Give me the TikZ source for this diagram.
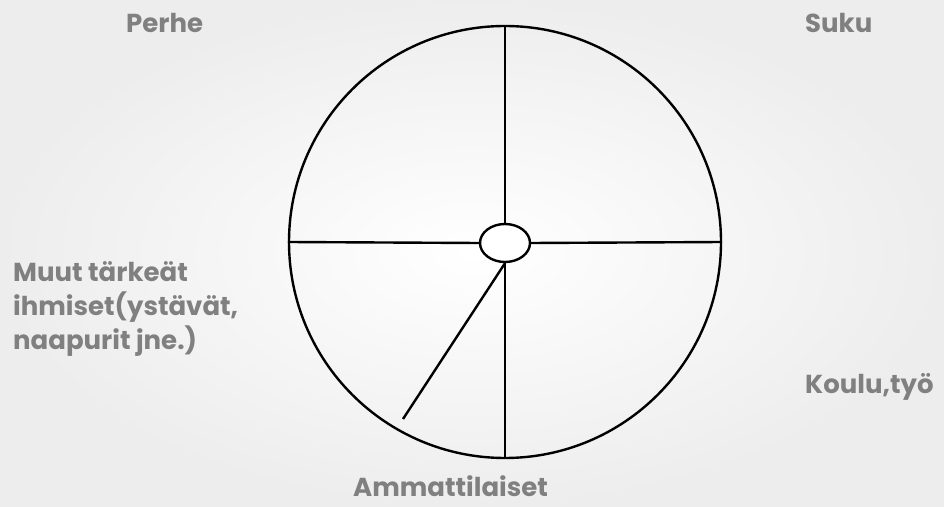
\documentclass[tikz,border=0pt]{standalone}
\usepackage{fontspec}
\setmainfont{Poppins}
\usetikzlibrary{shapes.geometric}

\begin{document}
\begin{tikzpicture}[x=1pt, y=1pt]
    \colorlet{labelgray}{black!50}
    \colorlet{bglight}{black!7}

    % background
    \useasboundingbox (0,0) rectangle (944,506);
    \shade[inner color=white, outer color=bglight] (0,0) rectangle (944,506);

    % wheel and hub
    \node[circle, draw, line width=2.4pt, minimum size=432pt, inner sep=0pt] (wheel) at (505,264) {};
    \node[ellipse, draw, line width=2.4pt, minimum width=50pt, minimum height=38pt, inner sep=0pt, fill=white] (hub) at (505,263) {};
    \coordinate (spoke) at (403,87);

    % spokes
    \draw[line width=2.4pt] (hub.north) -- (wheel.north);
    \draw[line width=2.4pt] (hub.west) -- (wheel.west);
    \draw[line width=2.4pt] (hub.east) -- (wheel.east);
    \draw[line width=2.4pt] (hub.south) -- (wheel.south);
    \draw[line width=2.4pt] (hub.south) -- (spoke);

    % labels
    \node[anchor=base west, inner sep=0pt, text=labelgray, font=\bfseries\fontsize{26}{34}\selectfont] (perhe) at (126,473) {Perhe};
    \node[anchor=base west, inner sep=0pt, text=labelgray, font=\bfseries\fontsize{26}{34}\selectfont] (suku) at (805,473) {Suku};
    \node[anchor=base west, inner sep=0pt, text=labelgray, font=\bfseries\fontsize{26}{34}\selectfont] (koulu) at (805,113) {Koulu,työ};
    \node[anchor=base west, inner sep=0pt, text=labelgray, font=\bfseries\fontsize{26}{34}\selectfont] (ammatti) at (353,10) {Ammattilaiset};
    \node[anchor=north west, inner sep=0pt, align=left, text=labelgray, font=\bfseries\fontsize{26}{34}\selectfont] (muut) at (13,245) {Muut tärkeät\\ihmiset(ystävät,\\naapurit jne.)};
\end{tikzpicture}
\end{document}
